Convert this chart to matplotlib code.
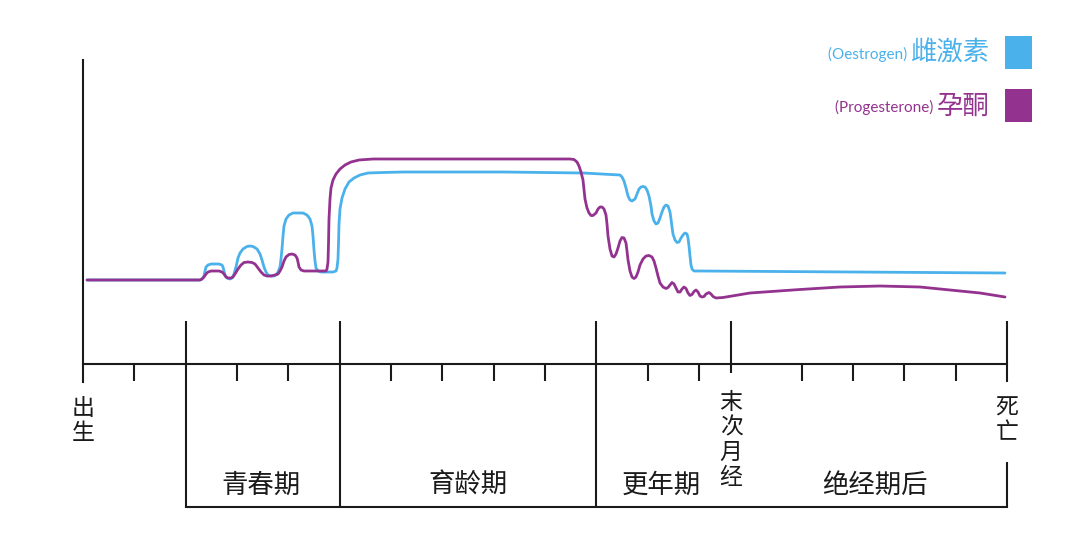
import matplotlib.pyplot as plt
from matplotlib.patches import Rectangle

plt.rcParams['font.family'] = ['Noto Sans CJK SC', 'DejaVu Sans']

# 横轴: 出生 = 0, 死亡 = 924 (示意单位); 纵轴: 激素水平 (示意单位)
oes_x = [4, 117, 119, 121, 122, 123, 125, 128, 136, 139, 140, 141, 142, 144, 147, 149, 151, 153, 155,
         157, 160, 164, 167, 170, 174, 177, 179, 181, 183, 185, 188, 191, 193, 195, 197, 198, 199, 200,
         201, 203, 206, 210, 220, 224, 227, 229, 230, 231, 232, 233, 235, 238, 250, 253, 254, 255,
         255.5, 256, 257, 259, 262, 266, 271, 277, 285, 300, 320, 420, 500, 537, 539, 541, 543, 545,
         547, 549, 552, 554, 556, 558, 560, 562, 564, 566, 568, 569, 571, 573, 575, 577, 579, 581, 583,
         585, 587, 588, 589, 590, 592, 594, 596, 598, 600, 602, 604, 605, 606, 607, 608, 609, 611, 617,
         922]
oes_y = [84, 84, 85, 88, 93, 97, 99, 100, 100, 99, 97, 93, 89, 86, 85, 86, 90, 97, 106,
         111, 115, 117.5, 118, 117.5, 115, 110, 104, 97, 92, 89, 88, 88, 89, 92, 97, 105, 115, 128,
         138, 145, 149, 151, 151, 149, 145, 138, 128, 114, 103, 96, 93, 92, 92, 93, 96, 105,
         120, 140, 155, 166, 175, 182, 186, 189, 191, 191.5, 192, 192, 191, 189, 187, 183, 176, 168,
         164, 163, 165, 170, 175, 177, 177.5, 177, 174, 168, 158, 150, 143, 140, 141, 146, 152, 157, 159,
         158, 152, 145, 137, 130, 124, 121.5, 122, 126, 129, 131, 130, 126, 118, 108, 99, 95, 93, 93,
         91]

pro_x = [4, 117, 119, 121, 123, 125, 128, 136, 139, 141, 143, 145, 148, 150, 152, 155, 158, 161, 165,
         169, 172, 175, 178, 181, 184, 188, 192, 195, 197, 199, 201, 203, 206, 209, 212, 214, 215, 216,
         218, 221, 243, 244, 245, 245.5, 246, 247, 248, 250, 253, 257, 262, 268, 276, 290, 487, 491,
         494, 496, 498, 500, 501, 502, 504, 506, 508, 510, 513, 515, 517, 519, 521, 523, 524, 525, 527,
         529, 531, 533, 535, 537, 539, 541, 543, 544, 545, 547, 549, 551, 553, 555, 557, 560, 563, 566,
         569, 571, 573, 575, 577, 580, 583, 585, 587, 589, 591, 593, 595, 597, 599, 601, 603, 605, 607,
         609, 611, 613, 615, 617, 619, 621, 623, 626, 628, 630, 633, 640, 667, 717, 757, 797, 837, 867,
         897, 922]
pro_y = [84, 84, 85, 87, 90, 92, 93, 93, 92, 90, 87, 86, 86, 87, 90, 95, 99, 101.5, 102,
         101.5, 100, 96, 92, 89, 88, 88, 89, 90, 93, 97, 103, 107, 109.5, 110, 109, 106, 102, 97,
         94, 93, 93, 95, 102, 120, 145, 165, 176, 184, 190, 195, 199, 202, 204, 205, 205, 204.5,
         202, 198, 192, 184, 175, 165, 156, 151, 148.5, 148.5, 151, 155, 157, 157, 155, 149, 140, 128, 115,
         108, 107, 110, 116, 123, 126.5, 126, 121, 113, 104, 93, 87, 85.5, 87, 92, 99, 105, 108, 108.5,
         107, 103, 96, 88, 81, 77, 75.5, 76.5, 79, 81.5, 80, 76, 72, 72, 75, 77, 75.5, 71, 68.5,
         69.5, 72.5, 74, 72, 68, 67, 67.5, 70, 71.5, 70, 67.5, 66, 66.5, 71, 74.5, 77, 78, 77, 74,
         71, 67]

minor_ticks = [51, 154, 205, 308, 359, 411, 462, 565, 616, 719, 770, 821, 873]
stage_edges = [103, 257, 513]
last_period = 648
death = 924
stage_names = ['青春期', '育龄期', '更年期', '绝经期后']
stage_centers = [178, 385, 578, 792]

blue = '#4BB1EB'
purple = '#93338F'
ink = '#1a1a1a'

fig = plt.figure(figsize=(10.8, 5.51), dpi=100)
ax = fig.add_axes([0, 0, 1, 1])
ax.set_xlim(-83, 997)
ax.set_ylim(-187, 364)
ax.axis('off')

# 曲线
ax.plot(oes_x, oes_y, color=blue, lw=2.0, solid_joinstyle='round', solid_capstyle='round', zorder=3)
ax.plot(pro_x, pro_y, color=purple, lw=2.0, solid_joinstyle='round', solid_capstyle='round', zorder=3)

# 坐标轴
ax.plot([0, 0], [-18, 304], color=ink, lw=1.5)
ax.plot([0, death], [0, 0], color=ink, lw=1.5)
ax.vlines(minor_ticks, -17, 0, color=ink, lw=1.5)
ax.vlines(stage_edges, -143, 43, color=ink, lw=1.5)
ax.vlines(last_period, -9, 43, color=ink, lw=1.5)
ax.vlines(death, -18, 43, color=ink, lw=1.5)
ax.vlines(death, -143, -98, color=ink, lw=1.5)
ax.plot([stage_edges[0], death], [-143, -143], color=ink, lw=1.5)

# 阶段标签
for name, cx in zip(stage_names, stage_centers):
    ax.text(cx, -121, name, ha='center', va='center', fontsize=19, color=ink)

ax.text(0, -57, '\n'.join('出生'), ha='center', va='center', fontsize=16.5,
        linespacing=1.1, color=ink)
ax.text(last_period, -76, '\n'.join('末次月经'), ha='center', va='center', fontsize=16.5,
        linespacing=1.1, color=ink)
ax.text(death, -56, '\n'.join('死亡'), ha='center', va='center', fontsize=16.5,
        linespacing=1.1, color=ink)

# 图例
legend_rows = [('(Oestrogen) ', '雌激素', blue, 311),
               ('(Progesterone) ', '孕酮', purple, 258)]
for eng, chn, col, yy in legend_rows:
    t = ax.text(907, yy, chn, ha='right', va='center', fontsize=19, color=col)
    ax.annotate(eng, xy=(0, 0.45), xycoords=t, ha='right', va='center',
                fontsize=11, color=col, family=['Lato', 'DejaVu Sans'])
    ax.add_patch(Rectangle((922, yy - 16), 27, 33, facecolor=col, edgecolor='none'))

fig.savefig('out.png', dpi=100, facecolor='white')
